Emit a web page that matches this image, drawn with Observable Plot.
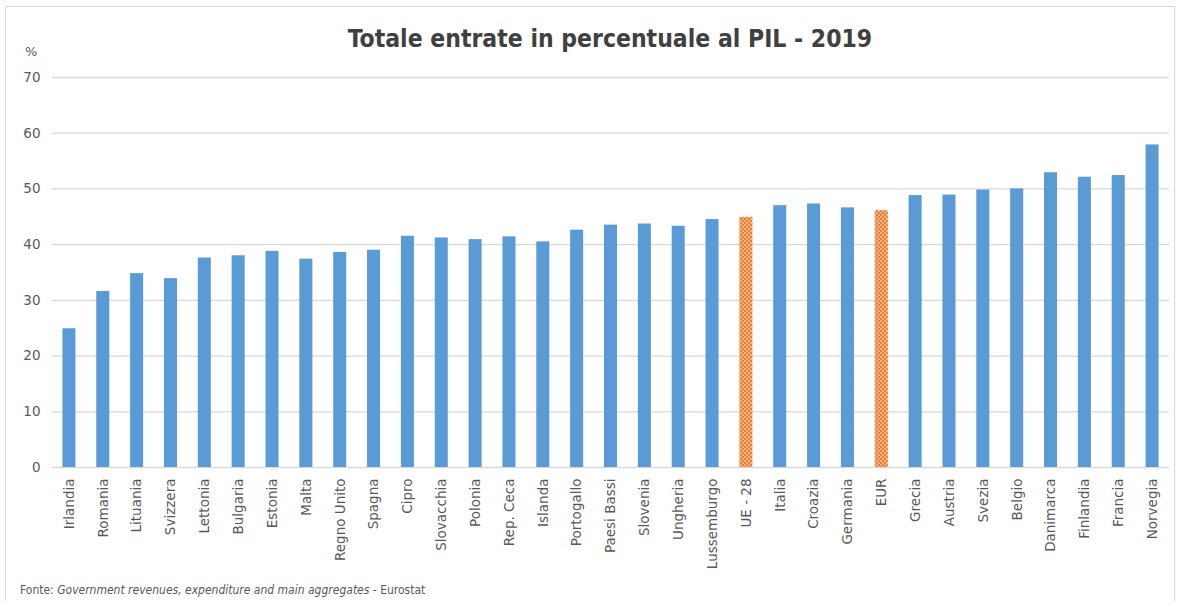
<!DOCTYPE html>
<html>
<head>
<meta charset="utf-8">
<script src="https://cdn.jsdelivr.net/npm/d3@7"></script>
<script src="https://cdn.jsdelivr.net/npm/@observablehq/plot@0.6"></script>
<style>
  html, body { margin: 0; padding: 0; background: #fff; }
  #wrap { position: relative; width: 1181px; height: 601px; overflow: hidden; font-family: "DejaVu Sans", sans-serif; }
  #frame { position: absolute; left: 5px; top: 6px; width: 1170px; height: 620px; border: 1px solid #d9d9d9; box-sizing: border-box; }
  #title { position: absolute; left: 0; width: 1220px; top: 24px; text-align: center; font-family: "DejaVu Sans Condensed", "DejaVu Sans", sans-serif; font-weight: bold; font-size: 24.5px; color: #404040; }
  #pct { position: absolute; left: 25px; top: 44px; font-size: 13px; color: #595959; }
  #chart { position: absolute; left: 0; top: 60px; }
  #caption { position: absolute; left: 20px; top: 583px; font-family: "DejaVu Sans Condensed", "DejaVu Sans", sans-serif; font-size: 12px; color: #595959; }
</style>
</head>
<body>
<div id="wrap">
  <div id="frame"></div>
  <div id="title">Totale entrate in percentuale al PIL - 2019</div>
  <div id="pct">%</div>
  <div id="chart"></div>
  <div id="caption">Fonte: <i>Government revenues, expenditure and main aggregates</i> - Eurostat</div>
</div>
<script>
const countries = ["Irlandia","Romania","Lituania","Svizzera","Lettonia","Bulgaria","Estonia","Malta","Regno Unito","Spagna","Cipro","Slovacchia","Polonia","Rep. Ceca","Islanda","Portogallo","Paesi Bassi","Slovenia","Ungheria","Lussemburgo","UE - 28","Italia","Croazia","Germania","EUR","Grecia","Austria","Svezia","Belgio","Danimarca","Finlandia","Francia","Norvegia"];
const values = [24.9, 31.6, 34.8, 33.9, 37.6, 38.0, 38.8, 37.4, 38.6, 39.0, 41.5, 41.2, 40.9, 41.4, 40.5, 42.6, 43.5, 43.7, 43.3, 44.5, 44.9, 47.0, 47.3, 46.6, 46.1, 48.8, 48.9, 49.8, 50.0, 52.9, 52.1, 52.4, 57.9];
const aggregates = ["UE - 28", "EUR"];
const yTicks = [0, 10, 20, 30, 40, 50, 60, 70];

const data = countries.map((c, i) => ({country: c, value: values[i]}));

const svg = Plot.plot({
  width: 1181,
  height: 520,
  marginTop: 17,
  marginLeft: 52,
  marginRight: 12,
  marginBottom: 113,
  style: {fontFamily: "DejaVu Sans, sans-serif", color: "#595959", background: "transparent"},
  x: {domain: countries, paddingInner: 0.615, paddingOuter: 0.3075, round: false, label: null},
  y: {domain: [0, 70], label: null},
  marks: [
    Plot.gridY(yTicks, {stroke: "#d9d9d9", strokeOpacity: 1, strokeWidth: 1.3}),
    Plot.axisY(yTicks, {tickSize: 0, tickPadding: 12, fontSize: 13.5, fill: "#595959", label: null}),
    Plot.barY(data.filter(d => !aggregates.includes(d.country)), {x: "country", y: "value", fill: "#5B9BD5"}),
    Plot.barY(data.filter(d => aggregates.includes(d.country)), {x: "country", y: "value", fill: "url(#dots)"}),
    Plot.axisX({tickRotate: -90, tickSize: 0, tickPadding: 11, fontSize: 13.5, fill: "#595959", label: null})
  ]
});

d3.select(svg).insert("defs", ":first-child").html(
  '<pattern id="dots" width="4" height="4" patternUnits="userSpaceOnUse">' +
  '<rect width="4" height="4" fill="#ED7D31"></rect>' +
  '<circle cx="1" cy="1" r="0.85" fill="#fde6d6"></circle>' +
  '<circle cx="3" cy="3" r="0.85" fill="#fde6d6"></circle>' +
  '</pattern>'
);

document.getElementById("chart").appendChild(svg);
</script>
</body>
</html>
